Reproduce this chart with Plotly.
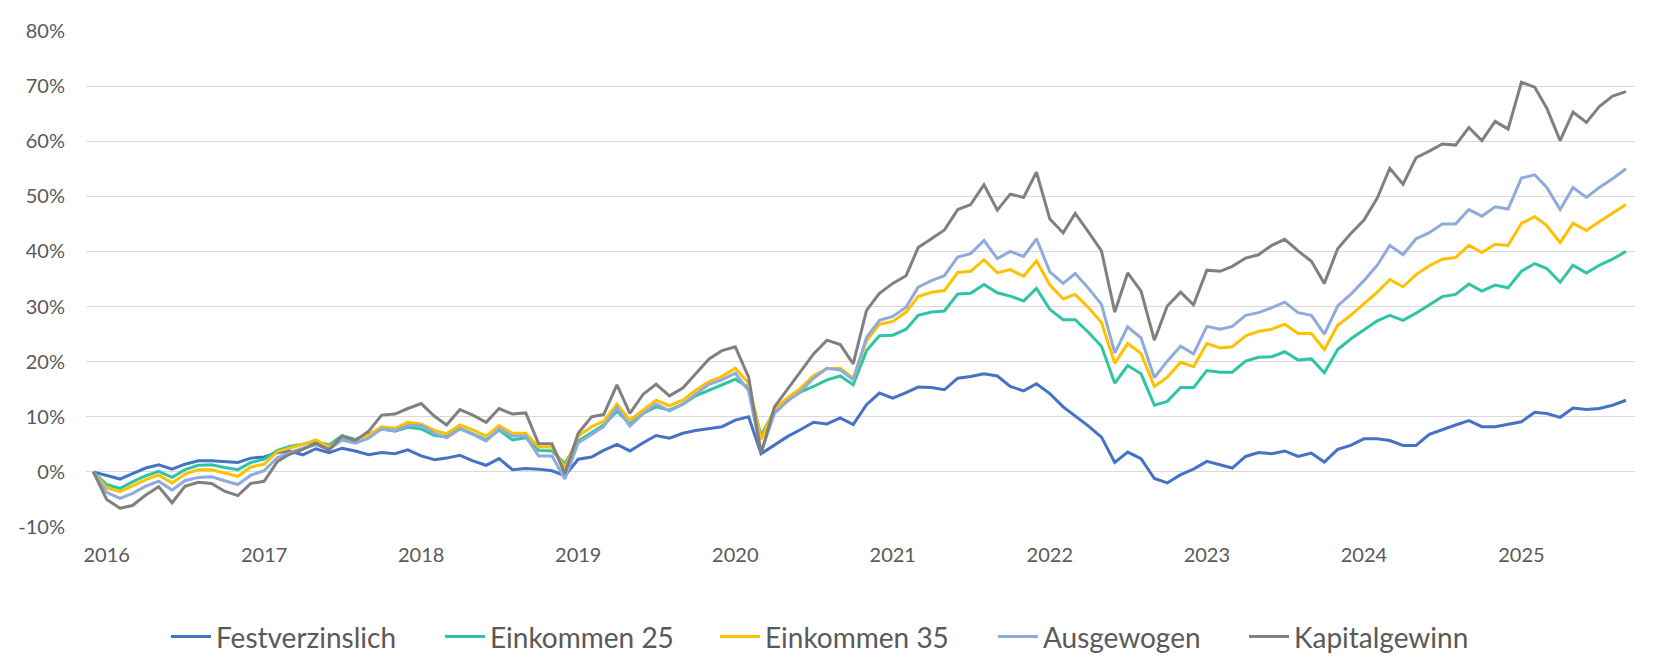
import plotly.graph_objects as go
import pandas as pd

# Monthly observations, Dec 2015 .. Sep 2025 (values in %)
months = pd.date_range("2015-12-01", "2025-09-01", freq="MS")

festverzinslich = [
    0,
    -0.6, -1.3, -0.3, 0.7, 1.3, 0.5, 1.4, 2.0, 2.0, 1.9, 1.7, 2.5,
    2.7, 3.5, 3.8, 3.1, 4.2, 3.5, 4.3, 3.8, 3.1, 3.5, 3.3, 4.0,
    2.9, 2.2, 2.5, 3.0, 2.0, 1.2, 2.4, 0.4, 0.6, 0.5, 0.2, -0.7,
    2.3, 2.7, 3.9, 5.0, 3.8, 5.3, 6.6, 6.1, 7.0, 7.5, 7.8, 8.2,
    9.4, 10.0, 3.3, 4.8, 6.4, 7.7, 9.0, 8.7, 9.8, 8.6, 12.2, 14.3,
    13.4, 14.4, 15.4, 15.3, 14.9, 17.0, 17.3, 17.8, 17.4, 15.5, 14.7, 16.0,
    14.2, 11.8, 10.2, 8.3, 6.3, 1.7, 3.6, 2.4, -1.2, -2.0, -0.5, 0.5,
    1.9, 1.2, 0.7, 2.8, 3.5, 3.3, 3.8, 2.8, 3.4, 1.8, 4.1, 4.8,
    6.0, 6.0, 5.7, 4.8, 4.8, 6.8, 7.7, 8.5, 9.3, 8.2, 8.2, 8.7,
    9.1, 10.8, 10.6, 9.9, 11.6, 11.3, 11.5, 12.1, 13.0,
]

einkommen_25 = [
    0,
    -2.3, -3.0, -1.8, -0.7, 0.1, -1.0, 0.4, 1.2, 1.3, 0.8, 0.4, 1.7,
    2.3, 3.9, 4.6, 5.0, 5.5, 4.9, 6.6, 5.9, 6.8, 7.8, 7.4, 8.1,
    7.8, 6.6, 6.4, 7.9, 6.9, 5.8, 7.6, 5.8, 6.2, 3.9, 3.8, 1.5,
    5.6, 7.2, 8.5, 11.0, 8.7, 10.6, 11.8, 11.2, 12.3, 13.8, 14.8, 15.8,
    16.8, 15.3, 6.6, 11.1, 13.0, 14.5, 15.5, 16.7, 17.4, 15.8, 22.0, 24.7,
    24.8, 25.9, 28.4, 29.0, 29.2, 32.3, 32.4, 34.0, 32.5, 31.9, 31.0, 33.3,
    29.5, 27.6, 27.6, 25.3, 22.8, 16.1, 19.3, 17.8, 12.1, 12.8, 15.3, 15.3,
    18.4, 18.1, 18.1, 20.1, 20.8, 20.9, 21.8, 20.3, 20.5, 18.0, 22.2, 24.1,
    25.8, 27.4, 28.4, 27.5, 28.8, 30.3, 31.8, 32.2, 34.1, 32.8, 33.9, 33.4,
    36.4, 37.8, 36.9, 34.4, 37.5, 36.1, 37.5, 38.6, 40.0,
]

einkommen_35 = [
    0,
    -2.9, -3.6, -2.5, -1.4, -0.6, -2.0, -0.4, 0.4, 0.4, -0.2, -0.8, 0.9,
    1.4, 3.7, 4.3, 5.0, 5.8, 4.5, 6.2, 5.8, 6.7, 8.2, 7.9, 9.0,
    8.7, 7.5, 6.9, 8.5, 7.6, 6.5, 8.4, 7.0, 7.0, 4.5, 4.5, 0.8,
    6.5, 8.2, 9.2, 12.3, 9.4, 11.2, 13.0, 12.0, 13.0, 14.8, 16.4, 17.3,
    18.8, 16.1, 5.9, 11.4, 13.4, 15.2, 17.5, 18.7, 18.8, 17.0, 23.8, 26.8,
    27.3, 29.0, 31.8, 32.6, 32.9, 36.2, 36.4, 38.5, 36.1, 36.7, 35.5, 38.3,
    33.9, 31.4, 32.2, 29.8, 27.1, 19.7, 23.3, 21.5, 15.5, 17.2, 19.9, 19.1,
    23.3, 22.5, 22.7, 24.7, 25.5, 25.9, 26.8, 25.1, 25.1, 22.2, 26.6, 28.4,
    30.5, 32.6, 34.9, 33.6, 35.8, 37.4, 38.6, 38.9, 41.1, 39.8, 41.3, 41.1,
    45.1, 46.3, 44.7, 41.6, 45.1, 43.8, 45.4, 46.9, 48.5,
]

ausgewogen = [
    0,
    -3.7, -4.8, -3.9, -2.6, -1.7, -3.3, -1.6, -1.0, -0.9, -1.6, -2.3, -0.6,
    0.2, 2.6, 3.5, 4.3, 4.9, 4.1, 5.8, 5.2, 6.1, 7.8, 7.5, 8.4,
    8.4, 7.0, 6.2, 7.8, 6.8, 5.6, 7.8, 6.5, 6.5, 2.9, 2.9, -1.3,
    5.3, 6.8, 8.2, 11.7, 8.3, 10.6, 12.3, 11.1, 12.3, 14.1, 15.9, 16.7,
    17.9, 14.7, 3.6, 10.6, 12.8, 14.6, 17.0, 18.8, 18.5, 16.7, 24.4, 27.5,
    28.2, 29.9, 33.5, 34.7, 35.6, 39.0, 39.6, 42.0, 38.7, 40.0, 39.1, 42.3,
    36.3, 34.2, 36.0, 33.3, 30.4, 21.6, 26.3, 24.3, 17.1, 20.1, 22.8, 21.4,
    26.4, 25.9, 26.4, 28.4, 28.9, 29.8, 30.8, 28.9, 28.4, 25.0, 30.1, 32.2,
    34.7, 37.5, 41.1, 39.4, 42.3, 43.4, 45.0, 45.0, 47.6, 46.4, 48.1, 47.7,
    53.3, 53.9, 51.6, 47.6, 51.6, 49.8, 51.6, 53.2, 55.0,
]

kapitalgewinn = [
    0,
    -5.0, -6.6, -6.1, -4.2, -2.7, -5.6, -2.6, -1.9, -2.1, -3.5, -4.3, -2.1,
    -1.7, 1.9, 3.2, 4.1, 5.2, 4.0, 6.5, 5.7, 7.4, 10.3, 10.5, 11.5,
    12.4, 10.1, 8.5, 11.3, 10.3, 9.0, 11.5, 10.5, 10.7, 5.1, 5.1, -0.3,
    7.0, 10.0, 10.4, 15.8, 10.6, 14.1, 15.9, 13.8, 15.2, 17.8, 20.5, 22.0,
    22.7, 17.2, 3.3, 11.8, 15.0, 18.2, 21.4, 23.9, 23.1, 19.6, 29.3, 32.4,
    34.2, 35.6, 40.7, 42.3, 43.9, 47.6, 48.5, 52.1, 47.5, 50.4, 49.8, 54.4,
    45.9, 43.4, 46.9, 43.5, 40.1, 29.0, 36.1, 32.8, 23.9, 30.1, 32.6, 30.3,
    36.6, 36.4, 37.3, 38.8, 39.4, 41.1, 42.2, 40.1, 38.2, 34.2, 40.5, 43.2,
    45.7, 49.7, 55.1, 52.2, 57.0, 58.2, 59.5, 59.3, 62.5, 60.1, 63.6, 62.2,
    70.7, 69.8, 66.0, 60.1, 65.3, 63.4, 66.3, 68.2, 69.0,
]

series_names = ["Festverzinslich", "Einkommen 25", "Einkommen 35", "Ausgewogen", "Kapitalgewinn"]
series_values = [festverzinslich, einkommen_25, einkommen_35, ausgewogen, kapitalgewinn]
series_colors = ["#4472C4", "#2EC4A4", "#FFC000", "#8FAADC", "#808080"]

y_tick_values = [-10, 0, 10, 20, 30, 40, 50, 60, 70, 80]
y_tick_labels = ["-10%", "0%", "10%", "20%", "30%", "40%", "50%", "60%", "70%", "80%"]

FONT = "Lato"
TXT = "#595959"
W, H = 1653, 660

# left edge (px) of each legend entry
legend_left_px = [166, 440, 715, 993, 1244]
legend_ids = ["legend", "legend2", "legend3", "legend4", "legend5"]

fig = go.Figure()
for name, vals, col, lid in zip(series_names, series_values, series_colors, legend_ids):
    fig.add_trace(go.Scatter(
        x=months, y=vals, mode="lines", name=name,
        line=dict(color=col, width=3),
        legend=lid,
    ))

legend_layouts = {}
for lid, px in zip(legend_ids, legend_left_px):
    legend_layouts[lid] = dict(
        orientation="h",
        xref="container", yref="container",
        x=px / W, xanchor="left",
        y=0.035, yanchor="middle",
        font=dict(family=FONT, size=28, color=TXT),
        itemwidth=40,
        bgcolor="rgba(0,0,0,0)",
    )

fig.update_layout(
    width=W, height=H,
    margin=dict(l=86, r=18, t=31, b=133),
    paper_bgcolor="white", plot_bgcolor="white",
    font=dict(family=FONT, color=TXT),
    showlegend=True,
    xaxis=dict(
        range=["2015-11-14", "2025-09-22"],
        tick0="2016-01-01", dtick="M12", tickformat="%Y",
        showgrid=False, zeroline=False, showline=False,
        ticks="", tickfont=dict(family=FONT, size=20, color=TXT),
        ticklabelstandoff=14,
    ),
    yaxis=dict(
        range=[-10, 80],
        tickmode="array", tickvals=y_tick_values, ticktext=y_tick_labels,
        showgrid=True, gridcolor="#D9D9D9", gridwidth=1,
        zeroline=False, showline=False, ticks="",
        tickfont=dict(family=FONT, size=20, color=TXT),
        ticklabelstandoff=20,
    ),
    **legend_layouts,
)

fig.write_html(
    "out.html",
    config={"displayModeBar": False},
    post_script="document.body.style.margin='0';document.body.style.overflow='hidden';",
)
